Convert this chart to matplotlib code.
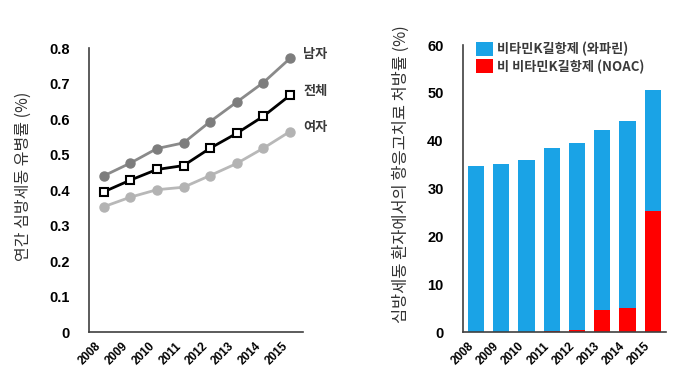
import matplotlib
matplotlib.use("Agg")
import matplotlib.pyplot as plt
import numpy as np

# data
years = ['2008', '2009', '2010', '2011', '2012', '2013', '2014', '2015']
male = [0.44, 0.476, 0.517, 0.533, 0.593, 0.648, 0.703, 0.771]
total = [0.395, 0.428, 0.458, 0.469, 0.518, 0.560, 0.608, 0.667]
female = [0.353, 0.380, 0.401, 0.408, 0.441, 0.475, 0.518, 0.565]
series_names = ['남자', '전체', '여자']

warfarin_total = [34.7, 35.2, 36.0, 38.4, 39.6, 42.3, 44.2, 50.6]
noac = [0.0, 0.0, 0.0, 0.25, 0.4, 4.7, 4.95, 25.3]
warfarin = [t - n for t, n in zip(warfarin_total, noac)]
legend_names = ['비타민K길항제 (와파린)', '비 비타민K길항제 (NOAC)']

kr = ['Noto Sans CJK KR', 'DejaVu Sans']
num_font = dict(family='Liberation Sans', weight='bold')

fig = plt.figure(figsize=(6.8, 3.79), dpi=100)
ax1 = fig.add_axes([0.131, 0.124, 0.315, 0.749])
ax2 = fig.add_axes([0.681, 0.124, 0.298, 0.757])

x = np.arange(len(years))

# left: prevalence lines
ax1.plot(x, male, color='#8a8a8a', lw=2, marker='o', ms=6.5,
         mfc='#7d7d7d', mec='#7d7d7d', zorder=3)
ax1.plot(x, female, color='#b8b8b8', lw=2, marker='o', ms=6.5,
         mfc='#b3b3b3', mec='#b3b3b3', zorder=3)
ax1.plot(x, total, color='black', lw=2, marker='s', ms=5.5,
         mfc='white', mec='black', mew=1.5, zorder=4)
for name, y in zip(series_names, [male[-1], total[-1], female[-1]]):
    ax1.text(7.5, y + 0.012, name, family=kr, weight='bold', fontsize=9.5,
             color='#3a3a3a', ha='left', va='center', clip_on=False)
ax1.set_xlim(-0.55, 7.5)
ax1.set_ylim(0, 0.8)
ax1.set_yticks(np.arange(0, 0.81, 0.1))
ax1.set_yticklabels(['0'] + ['%.1f' % v for v in np.arange(0.1, 0.81, 0.1)])
ax1.set_ylabel('연간 심방세동 유병률 (%)', family=kr, fontsize=11.5,
               color='#333333')
ax1.yaxis.set_label_coords(-0.265, 0.55)

# right: stacked bars
ax2.bar(x, warfarin, bottom=noac, width=0.64, color='#1aa3e6',
        label=legend_names[0])
ax2.bar(x, noac, width=0.64, color='#ff0000', label=legend_names[1])
ax2.set_xlim(-0.51, 7.51)
ax2.set_ylim(0, 60)
ax2.set_yticks(range(0, 61, 10))
ax2.set_ylabel('심방세동 환자에서의 항응고치료 처방률 (%)', family=kr,
               fontsize=11.8, color='#333333')
ax2.yaxis.set_label_coords(-0.265, 0.55)
ax2.legend(loc='upper left', bbox_to_anchor=(0.065, 1.01), frameon=False,
           prop={'family': kr, 'size': 9.5, 'weight': 'bold'},
           handlelength=1.25, handleheight=1.25, handletextpad=0.3,
           labelspacing=0.2, borderpad=0, borderaxespad=0,
           labelcolor='#3a3a3a')

for ax in (ax1, ax2):
    ax.set_xticks(x)
    ax.set_xticklabels(years, rotation=45, ha='right', fontsize=8.5, **num_font)
    for lab in ax.get_yticklabels():
        lab.set_fontsize(10.5)
        lab.set_family('Liberation Sans')
        lab.set_weight('bold')
    ax.tick_params(length=0)
    ax.tick_params(axis='x', pad=6)
    ax.tick_params(axis='y', pad=14)
    ax.spines['top'].set_visible(False)
    ax.spines['right'].set_visible(False)
    for s in ('left', 'bottom'):
        ax.spines[s].set_color('#404040')
        ax.spines[s].set_linewidth(1.2)

plt.savefig('out.png', dpi=100)
